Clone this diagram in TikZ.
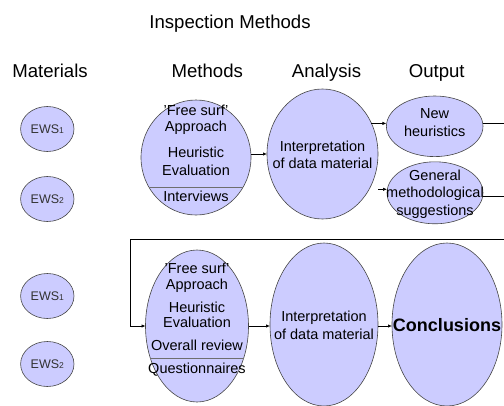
\documentclass[tikz,border=0pt]{standalone}
\usepackage{fontspec}
\setmainfont{Liberation Sans}
\usetikzlibrary{shapes.geometric,arrows.meta,calc}
\definecolor{bubblefill}{RGB}{204,204,255}
\definecolor{rim}{RGB}{70,70,70}
\definecolor{rule}{RGB}{110,110,110}
\definecolor{ewsink}{RGB}{50,50,50}
\newcommand\ewsidx[1]{{\fontsize{8.5}{9}\selectfont #1}}

\begin{document}
\begin{tikzpicture}[x=1pt,y=-1pt,
  bub/.style 2 args={ellipse,draw=rim,line width=0.6pt,fill=bubblefill,
    inner sep=0pt,outer sep=0pt,minimum width=#1,minimum height=#2},
  ews/.style={bub={53.4}{45},text=ewsink,font=\fontsize{12.5}{14}\selectfont},
  head/.style={font=\fontsize{18.6}{21}\selectfont,anchor=base,inner sep=0pt},
  txt/.style={font=\fontsize{14.5}{17}\selectfont,anchor=base,inner sep=0pt},
  arr/.style={-{Latex[length=4pt,width=3.4pt]},line width=0.7pt},
  wire/.style={line width=0.7pt},
  sepline/.style={draw=rule,line width=0.8pt}
]
\useasboundingbox (0,0) rectangle (504,405);

% headings
\node[head] (title) at (230,28.3) {Inspection Methods};
\node[head] (hmat) at (50,77.3) {Materials};
\node[head] (hmet) at (207.3,77.3) {Methods};
\node[head] (hana) at (326.5,77.3) {Analysis};
\node[head] (hout) at (436.7,77.3) {Output};

% materials
\node[ews] (e1) at (47.3,129) {EWS\ewsidx{1}};
\node[ews] (e2) at (47.3,199) {EWS\ewsidx{2}};
\node[ews] (e3) at (47.3,296) {EWS\ewsidx{1}};
\node[ews] (e4) at (47.3,364) {EWS\ewsidx{2}};

% first round
\node[bub={110}{115}] (m1) at (196,157.5) {};
\node[bub={111}{130}] (a1) at (322.5,154) {};
\node[bub={96.6}{60.6}] (nh) at (434.7,126.3) {};
\node[bub={96}{62}] (gs) at (435,192.8) {};

\draw[sepline] ($(m1.center)+(-46.9,30)$) -- ($(m1.center)+(46.9,30)$);

\node[txt] (m1a) at (196,115.2) {'Free surf'};
\node[txt] (m1b) at (196,131.8) {Approach};
\node[txt] (m1c) at (196,157.8) {Heuristic};
\node[txt] (m1d) at (196,175.5) {Evaluation};
\node[txt] (m1e) at (196,201.8) {Interviews};

\node[txt] (a1a) at (322.5,151.2) {Interpretation};
\node[txt] (a1b) at (322.5,168.5) {of data material};

\node[txt] (nha) at (434.7,118.5) {New};
\node[txt] (nhb) at (434.7,136.2) {heuristics};

\node[txt] (gsa) at (435,180.2) {General};
\node[txt] (gsb) at (435,197.8) {methodological};
\node[txt] (gsc) at (435,215.2) {suggestions};

% second round
\node[bub={103}{152}] (m2) at (197,326) {};
\node[bub={108}{163}] (a2) at (324,324.5) {};
\node[bub={110}{163}] (cc) at (447,324.5) {};

\draw[sepline] ($(m2.center)+(-46.7,32)$) -- ($(m2.center)+(46.7,32)$);

\node[txt] (m2a) at (197,273) {'Free surf'};
\node[txt] (m2b) at (197,289) {Approach};
\node[txt] (m2c) at (197,312.5) {Heuristic};
\node[txt] (m2d) at (197,327) {Evaluation};
\node[txt] (m2e) at (197,350) {Overall review};
\node[txt] (m2f) at (197,373) {Questionnaires};

\node[txt] (a2a) at (324,321) {Interpretation};
\node[txt] (a2b) at (324,339) {of data material};

\node[font=\fontsize{18}{21}\selectfont\bfseries,anchor=base,inner sep=0pt]
  (cca) at (447,331.7) {Conclusions};

% connectors, first round
\draw[arr] (m1.east |- a1.west) -- (a1.west);
\draw[arr] (a1.32) -- (a1.32 -| nh.west);
\coordinate (g0) at (378,189.3);
\draw[arr] (g0) -- (g0 -| gs.west);
\coordinate (nhR) at (504,0);
\draw[wire] (nh.4) -- (nh.4 -| nhR);
\draw[wire] (gs.-4) -- (gs.-4 -| nhR);

% feedback into the second round
\coordinate (fbR) at (504,239.3);
\coordinate (fbL) at (130.7,239.3);
\draw[arr] (fbR) -- (fbL) |- (m2.west);

% connectors, second round
\draw[arr] (m2.east) -- (m2.east -| a2.west);
\draw[arr] (a2.east |- m2.east) -- (cc.west |- m2.east);
\end{tikzpicture}
\end{document}
